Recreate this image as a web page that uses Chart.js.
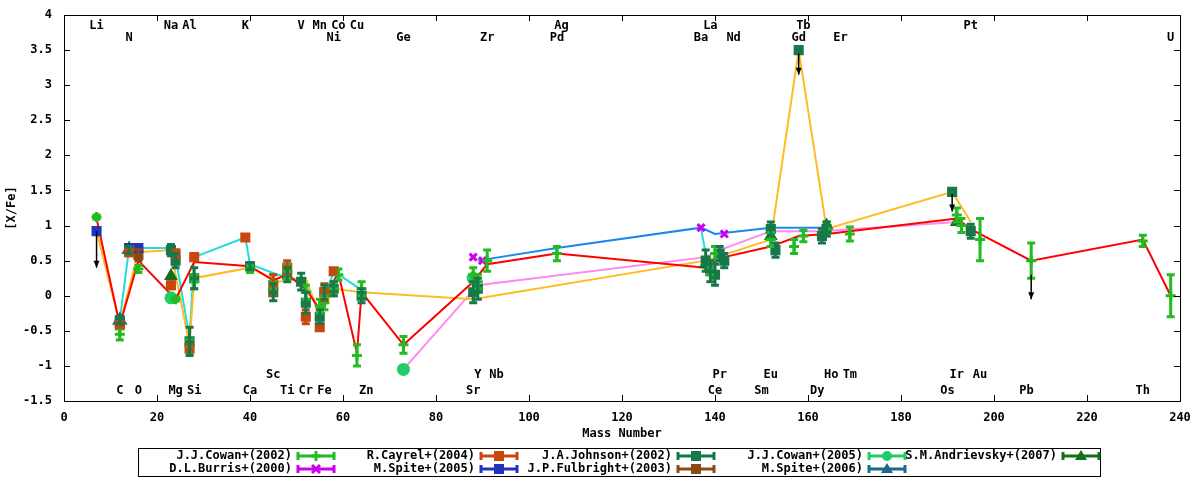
<!DOCTYPE html>
<html><head><meta charset="utf-8">
<script src="https://cdn.jsdelivr.net/npm/chart.js@4"></script>
<style>body{margin:0;background:#fff}</style>
</head><body>
<canvas id="c" width="1200" height="480"></canvas>
<script>
// --- trend lines ---
const redLine = [[7,1.1],[12,-0.42],[16,0.5],[24,-0.05],[28,0.48],[40,0.42],[45,0.22],[48,0.3],[52,0.1],[55,-0.2],[56,0.0],[59,0.32],[63,-0.82],[64,0.05],[73,-0.7],[88,0.2],[91,0.45],[106,0.6],[138,0.4],[142,0.55],[152,0.7],[158,0.85],[164,0.88],[192,1.1],[195,0.95],[208,0.5],[232,0.8],[238,0.0]];
const orangeLine = [[7,0.92],[12,-0.4],[16,0.62],[23,0.65],[24,0.3],[27,-0.7],[28,0.25],[40,0.4],[46,0.2],[52,0.25],[55,-0.3],[58,0.1],[64,0.05],[88,-0.05],[138,0.5],[152,0.8],[158,3.5],[164,0.95],[191,1.48],[195,1.05]];
const cyanLine = [[12,-0.35],[14,0.68],[23,0.68],[24,0.55],[27,-0.6],[28,0.55],[39,0.83],[40,0.45],[46,0.3],[52,0.2],[55,-0.25],[58,0.35],[64,0.08]];
const cyanLine2 = [[137,0.95],[138,0.6]];
const blueLine = [[89,0.5],[106,0.68],[137,0.97],[140,0.88],[152,0.97],[163,0.97]];
const pinkLine = [[73,-1.05],[89,0.15],[138,0.55],[141,0.65],[152,0.92],[163,0.92],[192,1.05]];

// --- measurements: [mass, [X/Fe], error] ---
const cowan2002 = [[7,1.12,0.03],[12,-0.55,0.08],[16,0.38,0.05],[24,-0.05,0.03],[27,-0.72,0.1],[28,0.2,0.1],[40,0.38,0.05],[45,0.2,0.1],[48,0.35,0.1],[52,0.05,0.1],[55,-0.15,0.1],[56,-0.1,0.1],[58,0.1,0.1],[59,0.3,0.08],[63,-0.85,0.15],[64,0.1,0.1],[73,-0.7,0.12],[88,0.3,0.1],[89,0.2,0.1],[91,0.5,0.15],[106,0.6,0.1],[139,0.4,0.1],[140,0.6,0.1],[152,0.8,0.1],[157,0.7,0.1],[159,0.85,0.08],[164,0.95,0.1],[169,0.88,0.1],[192,1.15,0.1],[193,1.0,0.1],[197,0.8,0.3],[208,0.5,0.25],[232,0.78,0.08],[238,0.0,0.3]];
const johnson2002 = [[12,-0.35,0.05],[14,0.65,0.05],[23,0.65,0.08],[24,0.5,0.1],[27,-0.65,0.2],[28,0.25,0.15],[40,0.42,0.05],[45,0.05,0.12],[48,0.3,0.1],[51,0.2,0.12],[52,-0.1,0.15],[55,-0.3,0.1],[56,0.05,0.1],[58,0.1,0.1],[64,0.0,0.1],[88,0.05,0.15],[89,0.1,0.15],[138,0.5,0.15],[139,0.35,0.15],[140,0.3,0.15],[141,0.6,0.1],[142,0.5,0.1],[152,0.95,0.1],[153,0.65,0.1],[158,3.5,0],[163,0.85,0.1],[164,0.95,0.1],[191,1.48,0],[195,0.92,0.1]];
const cayrel2004 = [[12,-0.42,0.03],[14,0.62,0.05],[23,0.15,0.05],[24,0.6,0.05],[27,-0.75,0.05],[28,0.55,0.03],[39,0.83,0.03],[45,0.15,0.15],[48,0.4,0.1],[52,-0.3,0.1],[55,-0.45,0.03],[56,0.05,0.12],[58,0.35,0.03]];
const burris2000 = [[88,0.55,0],[90,0.5,0],[137,0.97,0],[142,0.88,0]];
const spite2005 = [[7,0.92,0],[12,-0.38,0],[14,0.68,0],[16,0.68,0]];
const fulbright2003 = [[16,0.58,0.08]];
const cowan2005 = [[23,-0.03,0],[73,-1.05,0],[88,0.25,0]];
const andrievsky2007 = [[23,0.28,0],[138,0.45,0],[152,0.85,0],[164,1.0,0],[192,1.05,0]];
const spite2006 = [[12,-0.35,0],[14,0.66,0]];

// upper limits: [mass, from, to]
const limits = [[7,0.92,0.4],[158,3.45,3.15],[191,1.45,1.2],[208,0.3,-0.05]];

// element labels: [symbol, mass]
const topRow1 = [['Li',7],['Na',23],['Al',27],['K',39],['V',51],['Mn',55],['Co',59],['Cu',63],['Ag',107],['La',139],['Tb',159],['Pt',195]];
const topRow2 = [['N',14],['Ni',58],['Ge',73],['Zr',91],['Pd',106],['Ba',137],['Nd',144],['Gd',158],['Er',167],['U',238]];
const botRow1 = [['Sc',45],['Y',89],['Nb',93],['Pr',141],['Eu',152],['Ho',165],['Tm',169],['Ir',192],['Au',197]];
const botRow2 = [['C',12],['O',16],['Mg',24],['Si',28],['Ca',40],['Ti',48],['Cr',52],['Fe',56],['Zn',65],['Sr',88],['Ce',140],['Sm',150],['Dy',162],['Os',190],['Pb',207],['Th',232]];

const FONT = 'bold 12px "DejaVu Sans Mono", monospace';
const pts = a => a.map(p => ({x: p[0], y: p[1], e: p[2] || 0}));
const line = (d, color) => ({data: pts(d), showLine: true, borderColor: color, borderWidth: 2, pointRadius: 0, order: 2});
const mark = (label, d, color, style, r) => ({label, data: pts(d), backgroundColor: color, borderColor: color, pointStyle: style, pointRadius: r, pointBorderWidth: 3, showLine: false, errBars: true, order: 1});

const series = [
  mark('J.J.Cowan+(2002)', cowan2002, '#22bb22', 'cross', 5),
  mark('R.Cayrel+(2004)', cayrel2004, '#c8470f', 'rect', 5),
  mark('J.A.Johnson+(2002)', johnson2002, '#17784a', 'rect', 5),
  mark('J.J.Cowan+(2005)', cowan2005, '#22cc66', 'circle', 5),
  mark('S.M.Andrievsky+(2007)', andrievsky2007, '#12701e', 'triangle', 5),
  mark('D.L.Burris+(2000)', burris2000, '#cc00ee', 'crossRot', 5),
  mark('M.Spite+(2005)', spite2005, '#2233bb', 'rect', 5),
  mark('J.P.Fulbright+(2003)', fulbright2003, '#8b4a14', 'rect', 5),
  mark('M.Spite+(2006)', spite2006, '#1a6a88', 'triangle', 6)
];
const legendRows = [
  ['J.J.Cowan+(2002)','R.Cayrel+(2004)','J.A.Johnson+(2002)','J.J.Cowan+(2005)','S.M.Andrievsky+(2007)'],
  ['D.L.Burris+(2000)','M.Spite+(2005)','J.P.Fulbright+(2003)','M.Spite+(2006)']
];

function drawMarker(ctx, style, cx, cy, c) {
  ctx.fillStyle = c; ctx.strokeStyle = c; ctx.lineWidth = 3;
  ctx.beginPath();
  if (style === 'circle') { ctx.arc(cx, cy, 5, 0, Math.PI * 2); ctx.fill(); }
  else if (style === 'triangle') { ctx.moveTo(cx, cy - 6); ctx.lineTo(cx + 6, cy + 4); ctx.lineTo(cx - 6, cy + 4); ctx.fill(); }
  else if (style === 'cross') { ctx.moveTo(cx - 5, cy); ctx.lineTo(cx + 5, cy); ctx.moveTo(cx, cy - 5); ctx.lineTo(cx, cy + 5); ctx.stroke(); }
  else if (style === 'crossRot') { ctx.moveTo(cx - 4, cy - 4); ctx.lineTo(cx + 4, cy + 4); ctx.moveTo(cx + 4, cy - 4); ctx.lineTo(cx - 4, cy + 4); ctx.stroke(); }
  else ctx.fillRect(cx - 5, cy - 5, 10, 10);
}

const decor = {
  id: 'decor',
  afterDatasetsDraw(chart) {
    const {ctx, scales: {x, y}, chartArea: a} = chart;
    ctx.save();
    // error bars
    chart.data.datasets.forEach(ds => {
      if (!ds.errBars) return;
      ctx.strokeStyle = ds.borderColor; ctx.lineWidth = 3;
      ds.data.forEach(p => {
        if (!p.e) return;
        const px = x.getPixelForValue(p.x), t = y.getPixelForValue(p.y + p.e), b = y.getPixelForValue(p.y - p.e);
        ctx.beginPath();
        ctx.moveTo(px, t); ctx.lineTo(px, b);
        ctx.moveTo(px - 4, t); ctx.lineTo(px + 4, t);
        ctx.moveTo(px - 4, b); ctx.lineTo(px + 4, b);
        ctx.stroke();
      });
    });
    // upper-limit arrows
    ctx.strokeStyle = '#000'; ctx.fillStyle = '#000'; ctx.lineWidth = 1.5;
    limits.forEach(l => {
      const px = x.getPixelForValue(l[0]), t = y.getPixelForValue(l[1]), b = y.getPixelForValue(l[2]);
      ctx.beginPath(); ctx.moveTo(px, t); ctx.lineTo(px, b); ctx.stroke();
      ctx.beginPath(); ctx.moveTo(px - 3, b - 7); ctx.lineTo(px + 3, b - 7); ctx.lineTo(px, b); ctx.fill();
    });
    // element labels
    ctx.font = FONT; ctx.fillStyle = '#000'; ctx.textAlign = 'center'; ctx.textBaseline = 'middle';
    const put = (row, py) => row.forEach(e => ctx.fillText(e[0], x.getPixelForValue(e[1]), py));
    put(topRow1, 26); put(topRow2, 38); put(botRow1, 375); put(botRow2, 391);
    // frame and mirrored ticks
    ctx.strokeStyle = '#000'; ctx.lineWidth = 1;
    ctx.strokeRect(a.left + 0.5, a.top + 0.5, a.right - a.left, a.bottom - a.top);
    ctx.beginPath();
    for (let v = 20; v < 240; v += 20) {
      const px = Math.round(x.getPixelForValue(v)) + 0.5;
      ctx.moveTo(px, a.bottom); ctx.lineTo(px, a.bottom - 6);
      ctx.moveTo(px, a.top); ctx.lineTo(px, a.top + 6);
    }
    for (let v = -1; v < 4; v += 0.5) {
      const py = Math.round(y.getPixelForValue(v)) + 0.5;
      ctx.moveTo(a.left, py); ctx.lineTo(a.left + 6, py);
      ctx.moveTo(a.right, py); ctx.lineTo(a.right - 6, py);
    }
    ctx.stroke();
    // axis titles
    ctx.fillText('Mass Number', (a.left + a.right) / 2, 434);
    ctx.save(); ctx.translate(12, (a.top + a.bottom) / 2); ctx.rotate(-Math.PI / 2);
    ctx.fillText('[X/Fe]', 0, 0); ctx.restore();
    // legend
    ctx.strokeRect(138.5, 448.5, 962, 28);
    const ends = [292, 475, 672, 863, 1057];
    legendRows.forEach((row, ri) => {
      const py = 456 + ri * 13;
      row.forEach((name, i) => {
        ctx.textAlign = 'right'; ctx.fillStyle = '#000';
        ctx.fillText(name, ends[i], py);
        const ds = series.find(s => s.label === name);
        const c = ds.borderColor, x0 = ends[i] + 6, x1 = x0 + 36;
        ctx.strokeStyle = c; ctx.lineWidth = 3;
        ctx.beginPath(); ctx.moveTo(x0, py); ctx.lineTo(x1, py);
        ctx.moveTo(x0, py - 4); ctx.lineTo(x0, py + 4); ctx.moveTo(x1, py - 4); ctx.lineTo(x1, py + 4); ctx.stroke();
        drawMarker(ctx, ds.pointStyle, (x0 + x1) / 2, py, c);
      });
    });
    ctx.restore();
  }
};

const tickFont = {family: 'DejaVu Sans Mono', size: 12, weight: 'bold'};
new Chart(document.getElementById('c'), {
  type: 'scatter',
  data: {datasets: [
    line(redLine, '#ff0000'), line(orangeLine, '#ffbb22'), line(cyanLine, '#22dddd'), line(cyanLine2, '#22dddd'),
    line(blueLine, '#1a88ee'), line(pinkLine, '#ff88ee'), ...series
  ]},
  options: {
    responsive: false, animation: false,
    layout: {padding: {top: 15, right: 20, bottom: 0, left: 0}},
    plugins: {legend: {display: false}, tooltip: {enabled: false}},
    scales: {
      x: {type: 'linear', min: 0, max: 240, grid: {display: false}, border: {display: false},
          ticks: {stepSize: 20, color: '#000', font: tickFont, padding: 2},
          afterFit: s => { s.height = 79; }},
      y: {min: -1.5, max: 4, grid: {display: false}, border: {display: false},
          ticks: {stepSize: 0.5, color: '#000', font: tickFont, padding: 4, callback: v => String(v)},
          afterFit: s => { s.width = 64; }}
    }
  },
  plugins: [decor]
});
</script>
</body></html>
